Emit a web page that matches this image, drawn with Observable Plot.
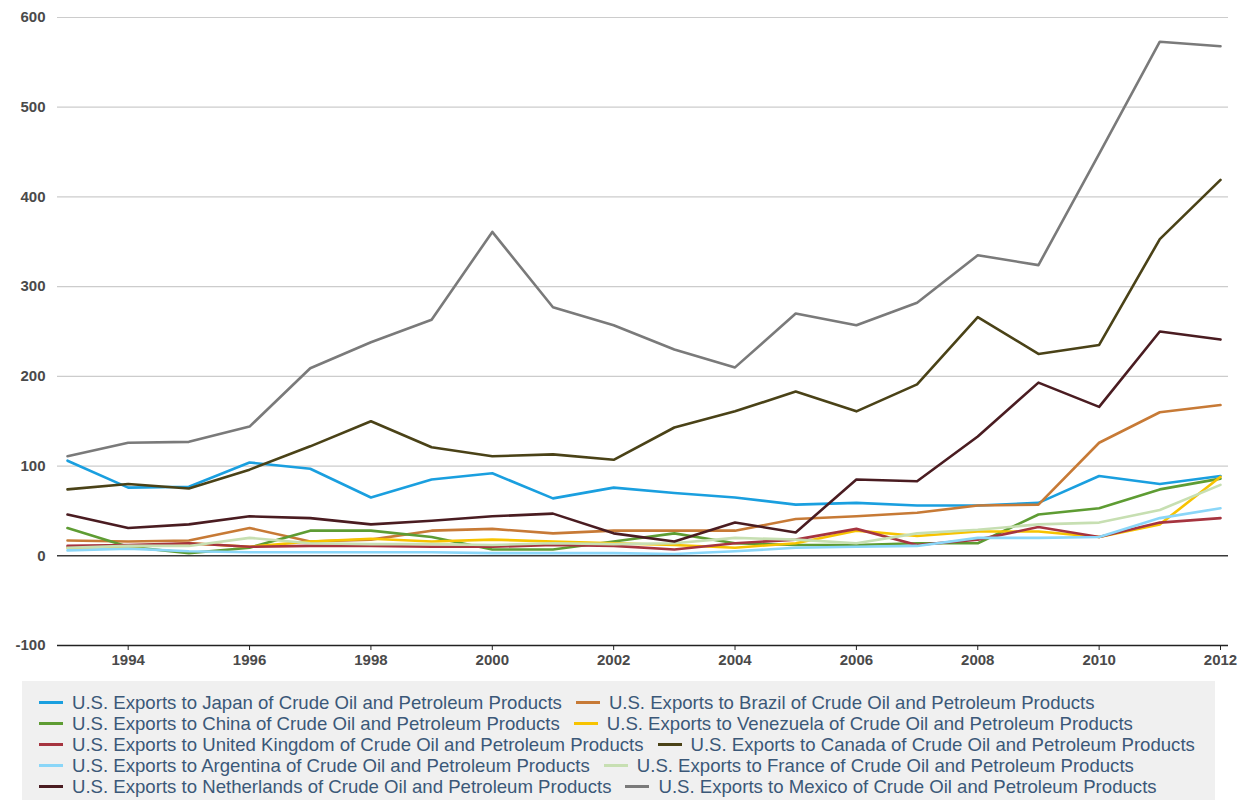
<!DOCTYPE html>
<html>
<head>
<meta charset="utf-8">
<script src="https://cdn.jsdelivr.net/npm/d3@7"></script>
<script src="https://cdn.jsdelivr.net/npm/@observablehq/plot@0.6"></script>
<style>
  body { margin: 0; background: #fff; font-family: "Liberation Sans", Arial, sans-serif; }
  #chart svg { display: block; }
  #legend {
    position: absolute; left: 22px; top: 681px; width: 1193px; height: 140px;
    background: #f0f0f0; box-sizing: border-box; padding: 11px 0 0 17px;
    display: flex; flex-wrap: wrap; align-content: flex-start;
  }
  .item { display: flex; align-items: center; height: 21px; margin-right: 14px; font-size: 18.6px; color: #3b5878; white-space: nowrap; }
  .sw { width: 24px; height: 3px; margin-right: 9px; }
</style>
</head>
<body>
<div id="chart"></div>
<div id="legend"></div>
<script>
const years = [1993,1994,1995,1996,1997,1998,1999,2000,2001,2002,2003,2004,2005,2006,2007,2008,2009,2010,2011,2012];
const seriesNames = [
  "U.S. Exports to Japan of Crude Oil and Petroleum Products",
  "U.S. Exports to Brazil of Crude Oil and Petroleum Products",
  "U.S. Exports to China of Crude Oil and Petroleum Products",
  "U.S. Exports to Venezuela of Crude Oil and Petroleum Products",
  "U.S. Exports to United Kingdom of Crude Oil and Petroleum Products",
  "U.S. Exports to Canada of Crude Oil and Petroleum Products",
  "U.S. Exports to Argentina of Crude Oil and Petroleum Products",
  "U.S. Exports to France of Crude Oil and Petroleum Products",
  "U.S. Exports to Netherlands of Crude Oil and Petroleum Products",
  "U.S. Exports to Mexico of Crude Oil and Petroleum Products"
];
const seriesColors = ["#1a9fdf","#c77a36","#5e9c33","#f7c300","#a6343f","#4a4217","#8ad6f8","#c7dfb2","#4a1c21","#7a7a7a"];

const japan       = [106,76,77,104,97,65,85,92,64,76,70,65,57,59,56,56,59,89,80,89];
const brazil      = [17,16,17,31,16,18,28,30,25,28,28,28,41,44,48,56,57,126,160,168];
const china       = [31,10,3,9,28,28,21,7,7,16,25,14,12,12,14,14,46,53,74,86];
const venezuela   = [9,10,14,10,16,19,16,18,16,14,12,9,14,28,22,27,27,21,35,88];
const uk          = [11,12,14,10,11,11,10,10,12,11,7,14,18,30,12,18,32,21,37,42];
const canada      = [74,80,75,96,122,150,121,111,113,107,143,161,183,161,191,266,225,235,353,419];
const argentina   = [6,8,5,4,4,4,4,3,3,3,2,5,9,10,11,20,20,21,42,53];
const france      = [9,11,11,20,14,13,13,12,14,13,14,20,18,14,25,29,35,37,51,79];
const netherlands = [46,31,35,44,42,35,39,44,47,25,16,37,26,85,83,133,193,166,250,241];
const mexico      = [111,126,127,144,209,238,263,361,277,257,230,210,270,257,282,335,324,448,573,568];

const seriesValues = [japan,brazil,china,venezuela,uk,canada,argentina,france,netherlands,mexico];
const yTicks = [-100,0,100,200,300,400,500,600];
const xTicks = [1994,1996,1998,2000,2002,2004,2006,2008,2010,2012];

const rows = [];
seriesNames.forEach((name, i) => {
  years.forEach((yr, j) => rows.push({series: name, year: yr, value: seriesValues[i][j]}));
});

const plot = Plot.plot({
  width: 1245,
  height: 680,
  marginLeft: 57,
  marginRight: 17,
  marginTop: 17,
  marginBottom: 35,
  style: {fontFamily: "'Liberation Sans', Arial, sans-serif", color: "#4a4a4a", background: "#fff"},
  x: {domain: [1993, 2012], insetLeft: 10, insetRight: 8, label: null},
  y: {domain: [-100, 600], label: null},
  color: {domain: seriesNames, range: seriesColors},
  marks: [
    Plot.ruleY(yTicks.filter(d => d !== 0 && d !== -100), {stroke: "#cccccc", strokeWidth: 1.2}),
    Plot.axisY({ticks: yTicks, tickSize: 0, tickPadding: 12, fontSize: 15, fontWeight: 600, label: null, tickFormat: d => String(d)}),
    Plot.axisX({ticks: xTicks, tickSize: 5, tickPadding: 4, fontSize: 15, fontWeight: 600, label: null, tickFormat: d => String(d), stroke: "#222"}),
    Plot.ruleY([-100], {stroke: "#222", strokeWidth: 1.5}),
    Plot.lineY(rows, {x: "year", y: "value", z: "series", stroke: "series", strokeWidth: 2.6}),
    Plot.ruleY([0], {stroke: "#3a3a3a", strokeWidth: 1.6})
  ]
});
document.getElementById("chart").appendChild(plot);

const legend = document.getElementById("legend");
seriesNames.forEach((name, i) => {
  const item = document.createElement("div");
  item.className = "item";
  const sw = document.createElement("span");
  sw.className = "sw";
  sw.style.background = seriesColors[i];
  const tx = document.createElement("span");
  tx.textContent = name;
  item.appendChild(sw); item.appendChild(tx);
  legend.appendChild(item);
});
</script>
</body>
</html>
